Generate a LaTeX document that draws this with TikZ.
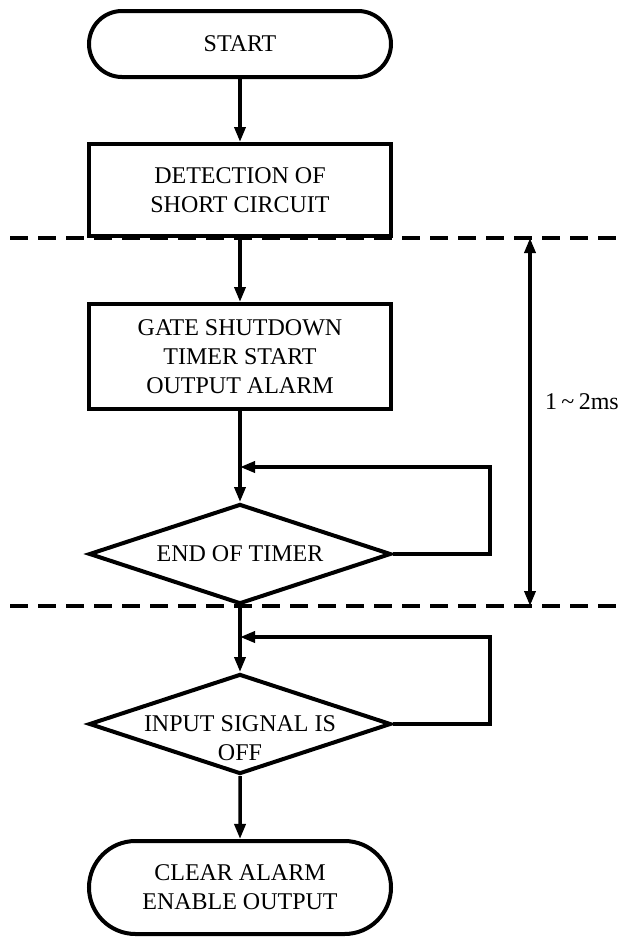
\documentclass[tikz,border=0pt]{standalone}
\usepackage{fontspec}
\setmainfont{Liberation Serif}
\usetikzlibrary{shapes,arrows.meta,positioning,calc}

\begin{document}
\begin{tikzpicture}[
    x=0.5pt, y=-0.5pt,
    node distance=32pt,
    font=\fontsize{12}{14.5}\selectfont,
    term/.style={rounded rectangle, draw, line width=2pt, minimum width=151pt, align=center, inner sep=0pt},
    proc/.style={rectangle, draw, line width=2pt, minimum width=151pt, align=center},
    dec/.style={diamond, draw, line width=2pt, minimum width=151pt, minimum height=50pt, inner sep=0pt},
    arrow/.style={->,>={Triangle[length=7.5pt,width=5.5pt]},line width=1.75pt},
    sepline/.style={line width=2pt, dash pattern=on 9pt off 5pt}
]
\useasboundingbox (0,0) rectangle (627,938);

% Flow
\node[term, minimum height=33pt] (start) at (240,44) {START};
\node[proc, minimum height=46pt] (det) [below=31.5pt of start] {DETECTION OF\\SHORT CIRCUIT};
\node[proc, minimum height=52.5pt] (gate) [below=of det] {GATE SHUTDOWN\\TIMER START\\OUTPUT ALARM};
\node[dec, label={center:END OF TIMER}] (chk1) [below=45.5pt of gate] {};
\node[dec, label={[align=center, yshift=-7pt]center:INPUT SIGNAL IS\\OFF}] (chk2) [below=33pt of chk1] {};
\node[term, minimum height=46.5pt] (clear) [below=31.5pt of chk2] {CLEAR ALARM\\ENABLE OUTPUT};

% Phase separators
\draw[sepline] (det.south -| 10,0) -- (det.south -| 620,0);
\draw[sepline] (chk1.south -| 10,0) -- (chk1.south -| 620,0);

% Arrows
\foreach \i/\j in {start/det, det/gate, gate/chk1, chk1/chk2, chk2/clear} {
    \draw[arrow] (\i) -- (\j);
}

% Wait loops
\coordinate (loop1) at (490,467);
\coordinate (loop2) at (490,637);
\draw[arrow] (chk1.east) -| (loop1) -- (loop1 -| chk1.north);
\draw[arrow] (chk2.east) -| (loop2) -- (loop2 -| chk2.north);

% Duration
\coordinate (durtop) at (det.south -| 530,0);
\coordinate (durbot) at (chk1.south -| 530,0);
\draw[arrow, <->] (durtop) -- (durbot);
\node (dur) at (582,402) {1\hspace{0.18em}\textasciitilde\hspace{0.18em}2ms};

\end{tikzpicture}
\end{document}
